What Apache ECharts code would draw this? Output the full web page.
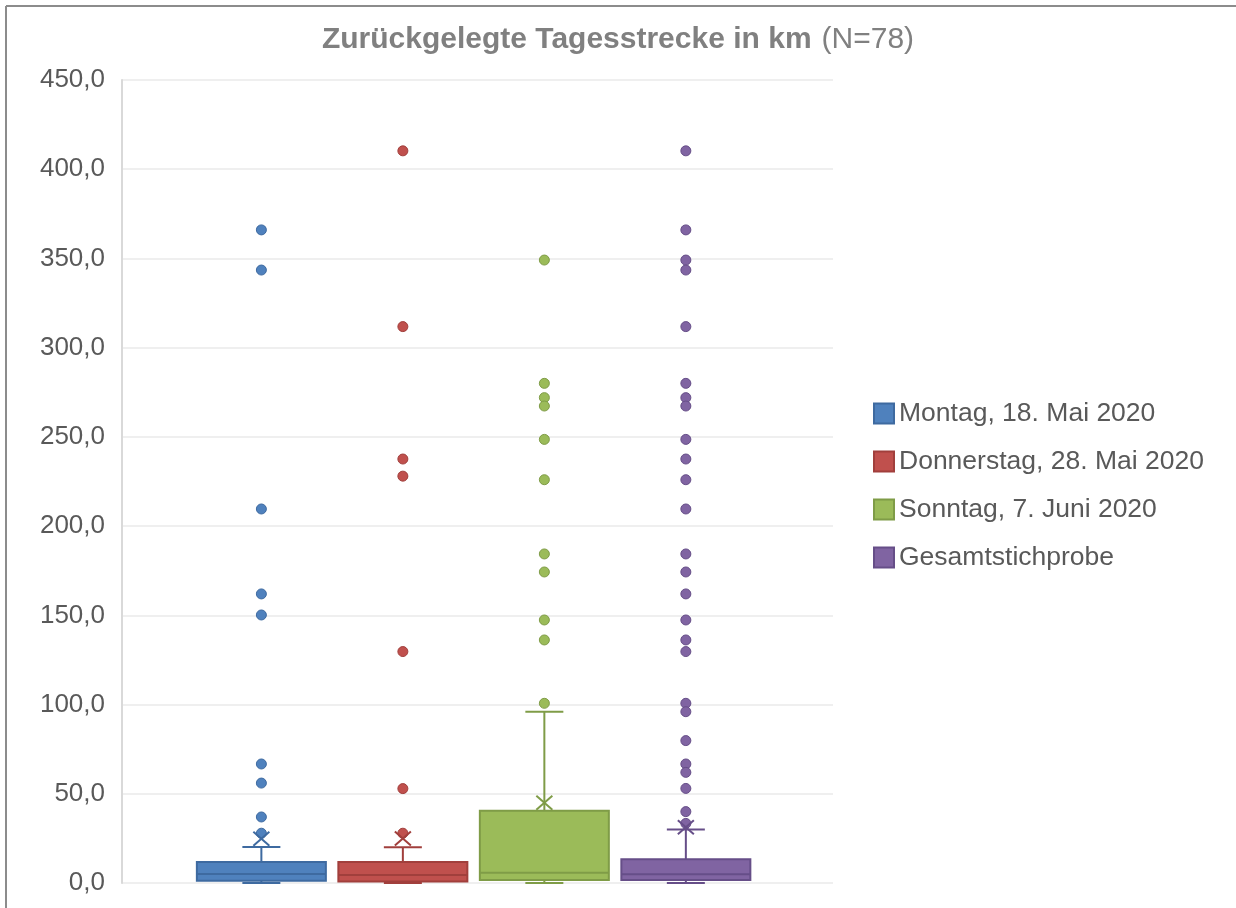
<!DOCTYPE html>
<html>
<head>
<meta charset="utf-8">
<title>Zurückgelegte Tagesstrecke in km</title>
<script src="https://cdn.jsdelivr.net/npm/echarts@6/dist/echarts.min.js"></script>
<style>
	html, body { margin: 0; padding: 0; background: #fff; }
	#chart { width: 1236px; height: 908px; }
</style>
</head>
<body>
<div id="chart"></div>
<script>
// Gruppen (Legende)
var groupNames = ['Montag, 18. Mai 2020', 'Donnerstag, 28. Mai 2020', 'Sonntag, 7. Juni 2020', 'Gesamtstichprobe'];
var groupPos = [1, 2, 3, 4];

// Kennwerte der Boxen
var boxMin = [0, 0, 0, 0];
var boxQ1 = [1.2, 0.8, 1.7, 1.7];
var boxMedian = [5.0, 4.5, 5.8, 4.9];
var boxQ3 = [11.8, 11.8, 40.5, 13.3];
var boxMax = [20.2, 20.0, 96.0, 30.0];
var boxMean = [24.8, 25.0, 45.0, 31.3];

// Ausreißer
var outMontag = [366, 343.5, 209.6, 162, 150.2, 66.7, 56, 37, 27.9];
var outDonnerstag = [410.3, 311.8, 237.6, 228, 129.7, 52.9, 27.9];
var outSonntag = [349.1, 280, 272, 267.3, 248.6, 226, 184.4, 174.3, 147.4, 136.2, 100.7];
var outGesamt = [410.3, 366, 349.1, 343.5, 311.8, 280, 272, 267.3, 248.6, 237.6, 226, 209.6,
	184.4, 174.3, 162, 147.4, 136.2, 129.7, 100.7, 96, 79.8, 66.7, 62, 53, 40, 33.4];
var outliers = [outMontag, outDonnerstag, outSonntag, outGesamt];

// y-Achse
var yMin = 0, yMax = 450, yStep = 50;

var fillColors = ['#4f81bd', '#c0504d', '#9bbb59', '#8064a2'];
var lineColors = ['#3e6aa0', '#a13f3c', '#7f9c47', '#664e88'];

var myChart = echarts.init(document.getElementById('chart'));

function renderBox(params, api) {
	// die ersten vier Serien sind die Boxen
	var idx = params.seriesIndex;
	var x = api.value(0);
	var pMin = api.coord([x, api.value(1)]);
	var pQ1 = api.coord([x, api.value(2)]);
	var pMed = api.coord([x, api.value(3)]);
	var pQ3 = api.coord([x, api.value(4)]);
	var pMax = api.coord([x, api.value(5)]);
	var pMean = api.coord([x, api.value(6)]);
	var cx = pMed[0];
	var half = 64.5, cap = 19;
	var line = lineColors[idx], fill = fillColors[idx];
	var ls = { stroke: line, lineWidth: 2 };
	return {
		type: 'group',
		children: [
			{ type: 'line', shape: { x1: cx, y1: pQ3[1], x2: cx, y2: pMax[1] }, style: ls },
			{ type: 'line', shape: { x1: cx, y1: pQ1[1], x2: cx, y2: pMin[1] }, style: ls },
			{ type: 'line', shape: { x1: cx - cap, y1: pMax[1], x2: cx + cap, y2: pMax[1] }, style: ls },
			{ type: 'line', shape: { x1: cx - cap, y1: pMin[1], x2: cx + cap, y2: pMin[1] }, style: ls },
			{ type: 'rect', shape: { x: cx - half, y: pQ3[1], width: half * 2, height: pQ1[1] - pQ3[1] },
				style: { fill: fill, stroke: line, lineWidth: 2 } },
			{ type: 'line', shape: { x1: cx - half, y1: pMed[1], x2: cx + half, y2: pMed[1] }, style: ls },
			{ type: 'line', shape: { x1: cx - 8, y1: pMean[1] - 7, x2: cx + 8, y2: pMean[1] + 7 }, style: ls },
			{ type: 'line', shape: { x1: cx - 8, y1: pMean[1] + 7, x2: cx + 8, y2: pMean[1] - 7 }, style: ls }
		]
	};
}

var series = [];
groupNames.forEach(function (name, i) {
	series.push({
		name: name,
		type: 'custom',
		renderItem: renderBox,
		itemStyle: { color: fillColors[i], borderColor: lineColors[i], borderWidth: 1 },
		encode: { x: 0, y: [1, 2, 3, 4, 5, 6] },
		data: [{
			value: [groupPos[i], boxMin[i], boxQ1[i], boxMedian[i], boxQ3[i], boxMax[i], boxMean[i]]
		}],
		z: 4
	});
});
// Ausreißer als Punkte, gleiche Namen wie die Boxen
groupNames.forEach(function (name, i) {
	series.push({
		name: name,
		type: 'scatter',
		symbol: 'circle',
		symbolSize: 10,
		itemStyle: { color: fillColors[i], borderColor: lineColors[i], borderWidth: 1, opacity: 1 },
		data: outliers[i].map(function (v) {
			return [groupPos[i], v];
		}),
		z: 3
	});
});

var option = {
	backgroundColor: '#fff',
	animation: false,
	textStyle: { fontFamily: 'Liberation Sans, Arial, sans-serif' },
	title: {
		left: 'center',
		top: 20,
		text: '{b|Zurückgelegte Tagesstrecke in km}  {n|(N=78)}',
		textStyle: {
			rich: {
				b: { fontSize: 30, fontWeight: 'bold', color: '#808080', fontFamily: 'Liberation Sans' },
				n: { fontSize: 30, fontWeight: 'normal', color: '#808080', fontFamily: 'Liberation Sans' }
			}
		}
	},
	legend: {
		orient: 'vertical',
		left: 868,
		top: 395,
		icon: 'rect',
		itemWidth: 20,
		itemHeight: 20,
		itemGap: 21,
		data: groupNames,
		textStyle: { fontSize: 26.5, color: '#595959', fontFamily: 'Liberation Sans' }
	},
	grid: {
		left: 122,
		right: 403,
		top: 80,
		bottom: 25,
		containLabel: false
	},
	xAxis: {
		type: 'value',
		min: 0.015,
		max: 5.04,
		show: false
	},
	yAxis: {
		type: 'value',
		min: yMin,
		max: yMax,
		interval: yStep,
		axisLine: { show: true, onZero: false, lineStyle: { color: '#d9d9d9', width: 2 } },
		axisTick: { show: false },
		splitLine: { lineStyle: { color: '#efefef', width: 2 } },
		axisLabel: {
			margin: 17,
			fontSize: 26,
			color: '#595959',
			fontFamily: 'Liberation Sans',
			formatter: function (v) {
				return v.toFixed(1).replace('.', ',');
			}
		}
	},
	graphic: [
		{ type: 'line', shape: { x1: 6, y1: 6, x2: 1236, y2: 6 }, style: { stroke: '#8c8c8c', lineWidth: 2 } },
		{ type: 'line', shape: { x1: 6, y1: 6, x2: 6, y2: 908 }, style: { stroke: '#8c8c8c', lineWidth: 2 } }
	],
	series: series
};

myChart.setOption(option);
</script>
</body>
</html>
